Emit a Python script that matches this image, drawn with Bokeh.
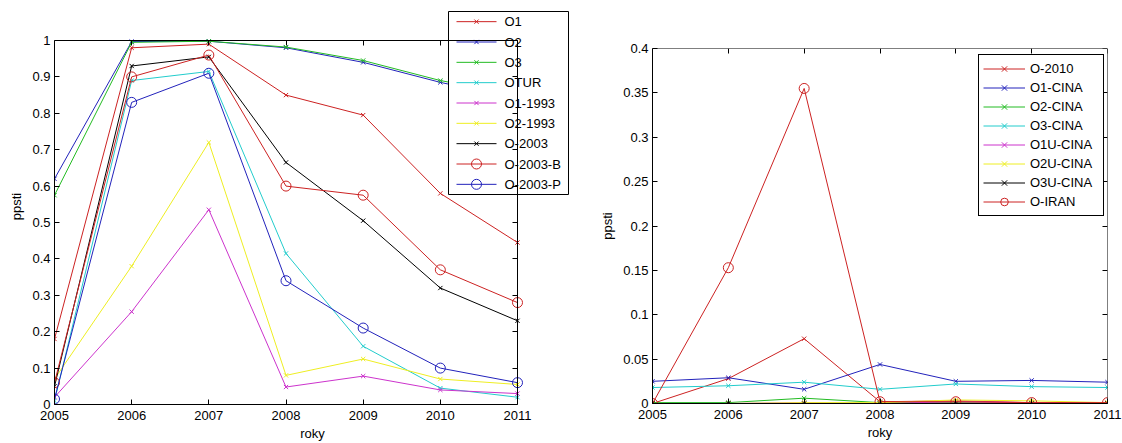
from bokeh.plotting import figure
from bokeh.layouts import row
from bokeh.models import Range1d, LinearAxis, FixedTicker, Legend, LegendItem, ColumnDataSource
from bokeh.core.properties import value
from bokeh.embed import file_html
from bokeh.resources import INLINE

years = [2005, 2006, 2007, 2008, 2009, 2010, 2011]
year_labels = ["2005", "2006", "2007", "2008", "2009", "2010", "2011"]

# ---- left chart data ----
left_names = ["O1", "O2", "O3", "OTUR", "O1-1993", "O2-1993", "O-2003", "O-2003-B", "O-2003-P"]
o1 = [0.18, 0.98, 0.99, 0.85, 0.795, 0.58, 0.445]
o2 = [0.62, 0.997, 0.998, 0.98, 0.94, 0.885, 0.84]
o3 = [0.575, 0.995, 0.998, 0.982, 0.945, 0.89, 0.85]
otur = [0.01, 0.89, 0.915, 0.415, 0.16, 0.045, 0.02]
o1_1993 = [0.02, 0.255, 0.535, 0.048, 0.078, 0.04, 0.03]
o2_1993 = [0.07, 0.38, 0.72, 0.08, 0.125, 0.07, 0.055]
o_2003 = [0.05, 0.93, 0.955, 0.665, 0.505, 0.32, 0.23]
o_2003_b = [0.06, 0.90, 0.96, 0.60, 0.575, 0.37, 0.28]
o_2003_p = [0.015, 0.83, 0.91, 0.34, 0.21, 0.10, 0.06]
left_values = [o1, o2, o3, otur, o1_1993, o2_1993, o_2003, o_2003_b, o_2003_p]
left_y_ticks = [0, 0.1, 0.2, 0.3, 0.4, 0.5, 0.6, 0.7, 0.8, 0.9, 1]
left_y_labels = ["0", "0.1", "0.2", "0.3", "0.4", "0.5", "0.6", "0.7", "0.8", "0.9", "1"]

# ---- right chart data ----
right_names = ["O-2010", "O1-CINA", "O2-CINA", "O3-CINA", "O1U-CINA", "O2U-CINA", "O3U-CINA", "O-IRAN"]
o_2010 = [0.0, 0.028, 0.073, 0.002, 0.003, 0.001, 0.001]
o1_cina = [0.025, 0.029, 0.016, 0.044, 0.025, 0.026, 0.024]
o2_cina = [0.001, 0.001, 0.006, 0.001, 0.001, 0.0, 0.0]
o3_cina = [0.018, 0.020, 0.024, 0.016, 0.022, 0.019, 0.018]
o1u_cina = [0.0, 0.0, 0.001, 0.0, 0.002, 0.001, 0.0]
o2u_cina = [0.0, 0.0, 0.001, 0.001, 0.004, 0.003, 0.001]
o3u_cina = [0.0, 0.0, 0.0, 0.0, 0.0, 0.0, 0.0]
o_iran = [0.0, 0.153, 0.355, 0.002, 0.002, 0.001, 0.001]
right_values = [o_2010, o1_cina, o2_cina, o3_cina, o1u_cina, o2u_cina, o3u_cina, o_iran]
right_y_ticks = [0, 0.05, 0.1, 0.15, 0.2, 0.25, 0.3, 0.35, 0.4]
right_y_labels = ["0", "0.05", "0.1", "0.15", "0.2", "0.25", "0.3", "0.35", "0.4"]

RED, BLUE, GREEN, CYAN = "#cc2222", "#2222bb", "#22bb22", "#22cccc"
MAG, YEL, BLK = "#cc33cc", "#eeee22", "#000000"
left_colors = [RED, BLUE, GREEN, CYAN, MAG, YEL, BLK, RED, BLUE]
left_markers = ["x"] * 7 + ["circle"] * 2
right_colors = [RED, BLUE, GREEN, CYAN, MAG, YEL, BLK, RED]
right_markers = ["x"] * 7 + ["circle"]

FONT = "Liberation Sans"
H = 443


def make_plot(width, box_l, box_r, box_t, box_b, frame_r, frame_t,
              ymax, yticks, ylabels, names, values, colors, markers,
              leg_left, leg_top, leg_right, leg_bottom, manual_legend):
    # box_* : pixel edges (within this figure) of the axes box; frame_* : edges of drawing area
    x0, x1 = years[0], years[-1]
    ppx = (box_r - box_l) / (x1 - x0)
    ppy = (box_b - box_t) / ymax
    x_end = x1 + (frame_r - box_r) / ppx
    y_end = ymax + (box_t - frame_t) / ppy

    def dx(px):
        return x0 + (px - box_l) / ppx

    def dy(py):
        return (box_b - py) / ppy

    p = figure(width=width, height=H, output_backend="svg", toolbar_location=None, title=None,
               x_range=Range1d(x0, x_end), y_range=Range1d(0, y_end),
               min_border_left=box_l, min_border_right=width - frame_r,
               min_border_top=frame_t, min_border_bottom=H - box_b,
               background_fill_color="white", border_fill_color="white")
    p.frame_align = False
    p.xgrid.visible = False
    p.ygrid.visible = False
    p.outline_line_color = None

    xa = p.xaxis[0]
    xa.ticker = FixedTicker(ticks=years)
    xa.major_label_overrides = {y: l for y, l in zip(years, year_labels)}
    xa.axis_label = "roky"
    xa.bounds = (x0, x1)
    ya = p.yaxis[0]
    ya.ticker = FixedTicker(ticks=yticks)
    ya.major_label_overrides = {t: l for t, l in zip(yticks, ylabels)}
    ya.axis_label = "ppsti"
    ya.bounds = (0, ymax)
    for ax in (xa, ya):
        ax.major_tick_in = 5
        ax.major_tick_out = 0
        ax.minor_tick_line_color = None
        ax.axis_line_color = "black"
        ax.major_tick_line_color = "black"
        ax.major_label_text_font = FONT
        ax.major_label_text_font_size = "13px"
        ax.major_label_text_color = "black"
        ax.axis_label_text_font = FONT
        ax.axis_label_text_font_size = "13px"
        ax.axis_label_text_font_style = "normal"
        ax.axis_label_text_color = "black"
    xa.major_label_standoff = 6
    xa.axis_label_standoff = 3
    ya.major_label_standoff = 4
    ya.axis_label_standoff = 5

    top = LinearAxis(ticker=FixedTicker(ticks=years), fixed_location=ymax, bounds=(x0, x1),
                     major_label_overrides={y: "" for y in years}, major_label_text_font_size="1px",
                     major_tick_in=5, major_tick_out=0, minor_tick_line_color=None,
                     axis_line_color="black", major_label_standoff=0)
    right = LinearAxis(ticker=FixedTicker(ticks=yticks), fixed_location=x1, bounds=(0, ymax),
                       major_label_overrides={t: "" for t in yticks}, major_label_text_font_size="1px",
                       major_tick_in=5, major_tick_out=0, minor_tick_line_color=None,
                       axis_line_color="black", major_label_standoff=0)
    p.add_layout(top, "above")
    p.add_layout(right, "right")

    items = []
    for name, vals, c, m in zip(names, values, colors, markers):
        ln = p.line(years, vals, line_color=c, line_width=1)
        if m == "x":
            sc = p.scatter(years, vals, marker="x", size=6, line_color=c, line_width=1)
        else:
            sc = p.scatter(years, vals, marker="circle", size=10, line_color=c, fill_color=None, line_width=1)
        items.append(LegendItem(label=name, renderers=[ln, sc]))

    n = len(names)
    pitch = (leg_bottom - leg_top) / n
    if manual_legend:
        # legend box drawn with ordinary glyphs (it sticks out of the axes box)
        p.quad(left=[dx(leg_left)], right=[dx(leg_right)], top=[dy(leg_top)], bottom=[dy(leg_bottom)],
               fill_color="white", line_color="black", line_width=1)
        g0, g1, tx = leg_left + 8, leg_left + 48, leg_left + 56
        ys = [dy(leg_top + pitch * (i + 0.5)) for i in range(n)]
        src = ColumnDataSource(dict(
            xa=[dx(g0)] * n, xb=[dx(g1)] * n, xm=[dx((g0 + g1) / 2)] * n, xt=[dx(tx)] * n,
            y=ys, color=colors, marker=markers, name=names,
            size=[6 if m == "x" else 10 for m in markers]))
        p.segment(x0="xa", y0="y", x1="xb", y1="y", line_color="color", line_width=1, source=src)
        p.scatter(x="xm", y="y", marker="marker", size="size", line_color="color",
                  fill_color=None, line_width=1, source=src)
        p.text(x="xt", y="y", text="name", text_font=value(FONT), text_font_size="13px",
               text_color="black", text_baseline="middle", text_align="left", source=src)
    else:
        leg = Legend(items=items, location=(leg_left - box_l, box_b - leg_bottom), orientation="vertical",
                     border_line_color="black", border_line_width=1, border_line_alpha=1,
                     background_fill_color="white", background_fill_alpha=1,
                     label_text_font=FONT, label_text_font_size="13px", label_text_color="black",
                     glyph_width=42, glyph_height=19, label_height=19,
                     label_width=(leg_right - leg_left) - 8 - 42 - 5,
                     label_standoff=5, padding=4, spacing=0, margin=0)
        p.add_layout(leg, "center")
    return p


p1 = make_plot(575, 54, 517, 40, 404, 570, 8, 1, left_y_ticks, left_y_labels, left_names, left_values,
               left_colors, left_markers, 448, 11, 568, 194, True)
p2 = make_plot(547, 77, 532, 48, 403, 532, 48, 0.4, right_y_ticks, right_y_labels, right_names, right_values,
               right_colors, right_markers, 403, 54, 527, 216, False)

layout = row(p1, p2)
open("out.html", "w").write(file_html(layout, INLINE))
